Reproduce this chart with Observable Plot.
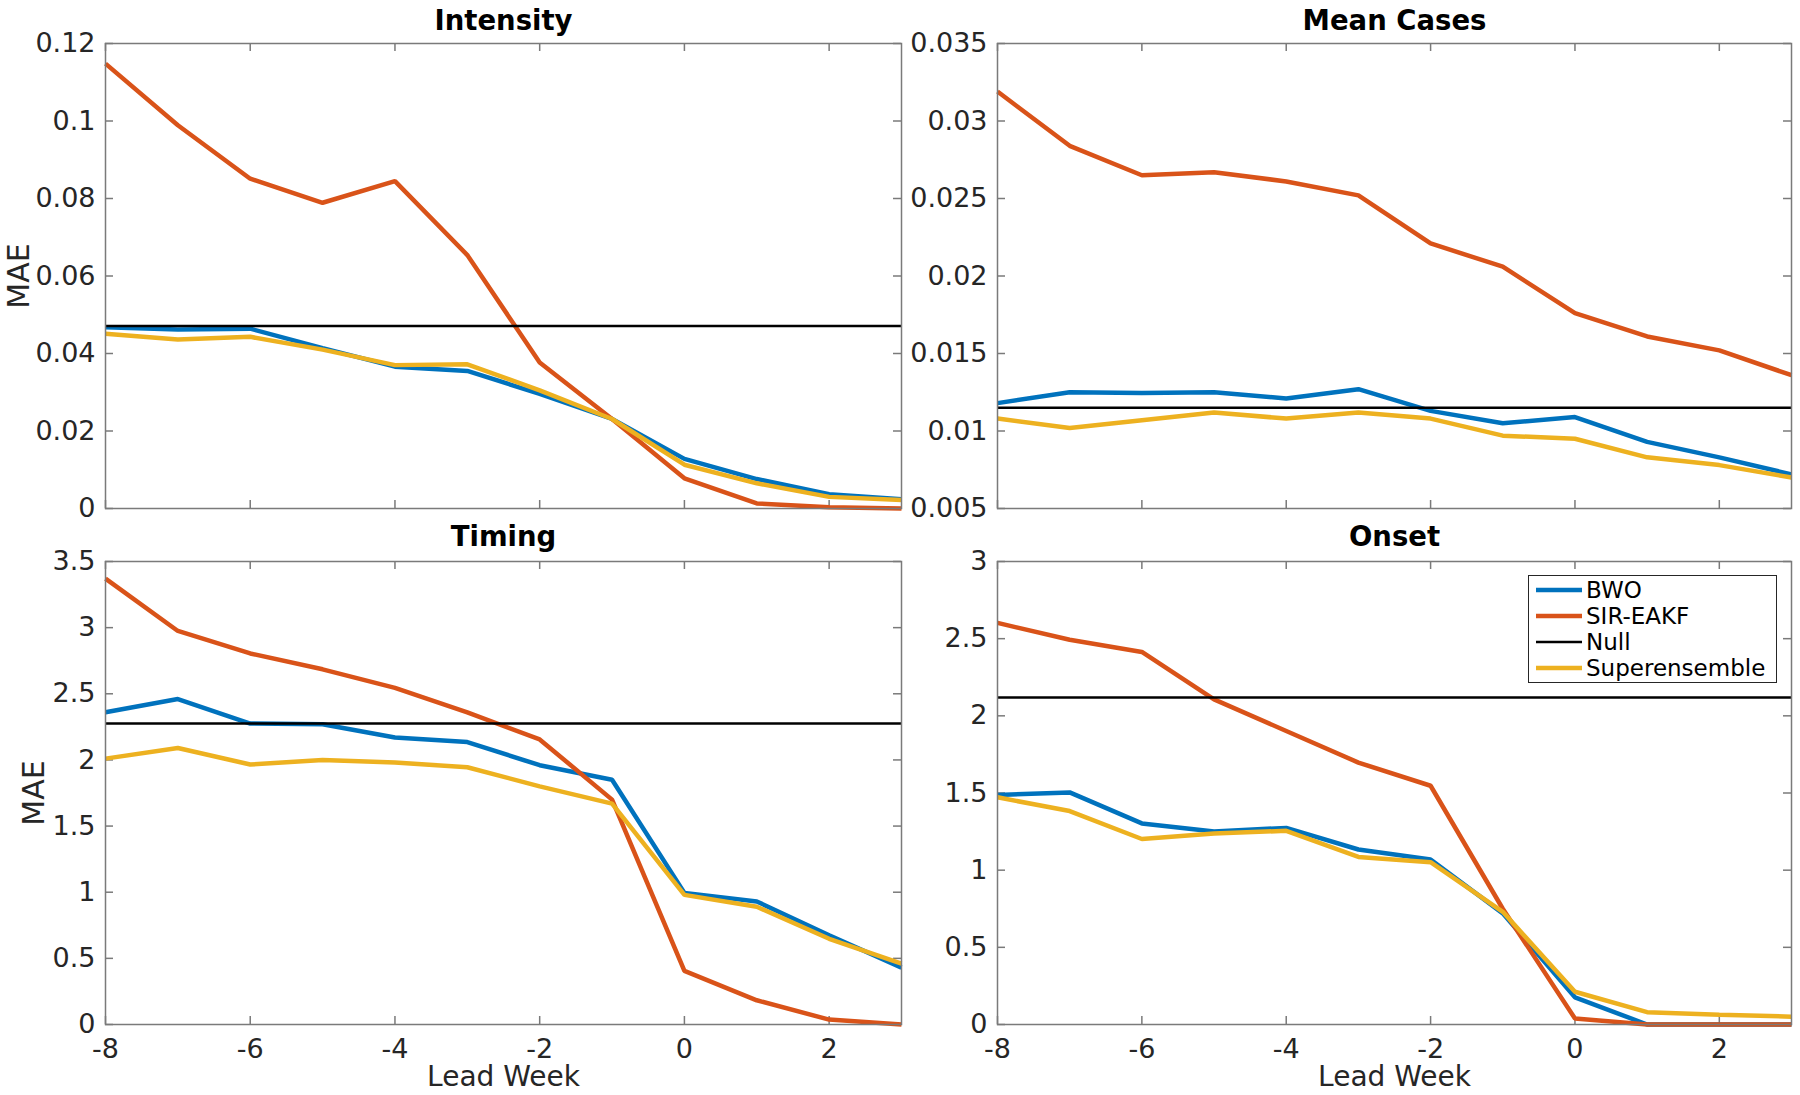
<!DOCTYPE html>
<html><head><meta charset="utf-8">
<script src="https://cdn.jsdelivr.net/npm/d3@7"></script>
<script src="https://cdn.jsdelivr.net/npm/@observablehq/plot@0.6"></script>
<style>
body{margin:0;background:#fff;}
#wrap{position:relative;width:1800px;height:1095px;font-family:"DejaVu Sans",sans-serif;overflow:hidden;background:#fff;}
.panel{position:absolute;}
.panel svg{overflow:visible;}
#legend{position:absolute;left:1528px;top:575px;width:249px;height:108px;border:1.5px solid #262626;background:#fff;box-sizing:border-box;}
.lrow{position:absolute;left:0;height:26px;display:flex;align-items:center;font-size:23px;color:#000;white-space:nowrap;}
</style></head><body><div id="wrap"></div>
<script>
// ---------- data ----------
const weeks = [-8, -7, -6, -5, -4, -3, -2, -1, 0, 1, 2, 3];
const models = ["BWO", "SIR-EAKF", "Null", "Superensemble"];
const modelColors = ["#0072BD", "#D95319", "#000000", "#EDB120"];
const xTicks = [-8, -6, -4, -2, 0, 2];

const intensityBWO   = [0.0468, 0.0462, 0.0464, 0.0414, 0.0366, 0.0355, 0.0296, 0.0231, 0.0128, 0.0076, 0.0037, 0.0024];
const intensitySIR   = [0.1148, 0.0989, 0.0851, 0.0789, 0.0845, 0.0654, 0.0377, 0.0231, 0.0078, 0.0013, 0.0003, 0.0000];
const intensitySuper = [0.0451, 0.0436, 0.0443, 0.0410, 0.0370, 0.0372, 0.0305, 0.0231, 0.0113, 0.0065, 0.0030, 0.0022];
const intensityNull  = 0.0471;
const intensityTicks = [0, 0.02, 0.04, 0.06, 0.08, 0.1, 0.12];

const casesBWO   = [0.0118, 0.0125, 0.01245, 0.0125, 0.0121, 0.0127, 0.0113, 0.0105, 0.0109, 0.0093, 0.0083, 0.0072];
const casesSIR   = [0.0319, 0.0284, 0.0265, 0.0267, 0.0261, 0.0252, 0.0221, 0.0206, 0.0176, 0.0161, 0.0152, 0.0136];
const casesSuper = [0.0108, 0.0102, 0.0107, 0.0112, 0.0108, 0.0112, 0.0108, 0.0097, 0.0095, 0.0083, 0.0078, 0.0070];
const casesNull  = 0.0115;
const casesTicks = [0.005, 0.01, 0.015, 0.02, 0.025, 0.03, 0.035];

const timingBWO   = [2.36, 2.46, 2.275, 2.27, 2.17, 2.135, 1.96, 1.85, 0.995, 0.93, 0.675, 0.43];
const timingSIR   = [3.37, 2.975, 2.805, 2.685, 2.545, 2.36, 2.155, 1.70, 0.405, 0.183, 0.037, 0.0];
const timingSuper = [2.01, 2.09, 1.965, 2.0, 1.98, 1.945, 1.80, 1.67, 0.98, 0.89, 0.648, 0.46];
const timingNull  = 2.275;
const timingTicks = [0, 0.5, 1, 1.5, 2, 2.5, 3, 3.5];

const onsetBWO   = [1.487, 1.504, 1.303, 1.25, 1.274, 1.134, 1.069, 0.72, 0.176, 0, 0, 0];
const onsetSIR   = [2.602, 2.493, 2.414, 2.107, 1.902, 1.697, 1.547, 0.75, 0.039, 0, 0, 0];
const onsetSuper = [1.472, 1.383, 1.202, 1.238, 1.255, 1.086, 1.052, 0.73, 0.212, 0.08, 0.063, 0.051];
const onsetNull  = 2.119;
const onsetTicks = [0, 0.5, 1, 1.5, 2, 2.5, 3];

const titles = ["Intensity", "Mean Cases", "Timing", "Onset"];
const xLabel = "Lead Week";
const yLabel = "MAE";

// ---------- drawing ----------
const wrap = document.getElementById("wrap");
const axisColor = "#7a7a7a";
const textColor = "#262626";
const tickLen = 8;

function toRows(arr) { return weeks.map((w, i) => ({week: w, value: arr[i]})); }

function panel(cfg) {
  const fw = cfg.width - cfg.ml - cfg.mr;
  const fh = cfg.height - cfg.mt - cfg.mb;
  const line = (arr, c) => Plot.line(toRows(arr), {x: "week", y: "value", stroke: modelColors[c], strokeWidth: 4.5, strokeLinecap: "butt", strokeLinejoin: "miter"});
  const marks = [
    // inward ticks, all four sides
    Plot.tickY(cfg.ticks, {y: d => d, stroke: axisColor, strokeWidth: 1.5, insetRight: fw - tickLen}),
    Plot.tickY(cfg.ticks, {y: d => d, stroke: axisColor, strokeWidth: 1.5, insetLeft: fw - tickLen}),
    Plot.tickX(xTicks, {x: d => d, stroke: axisColor, strokeWidth: 1.5, insetTop: fh - tickLen}),
    Plot.tickX(xTicks, {x: d => d, stroke: axisColor, strokeWidth: 1.5, insetBottom: fh - tickLen}),
    Plot.axisY({ticks: cfg.ticks, tickSize: 0, tickPadding: 10, tickFormat: d => String(d), label: null, fontSize: 27, fill: textColor}),
    line(cfg.bwo, 0),
    line(cfg.sir, 1),
    Plot.ruleY([cfg.nullVal], {stroke: modelColors[2], strokeWidth: 2.5}),
    line(cfg.sup, 3),
    Plot.frame({stroke: axisColor, strokeWidth: 1.5}),
    Plot.text([cfg.title], {text: d => d, frameAnchor: "top", textAnchor: "middle", lineAnchor: "middle", dy: cfg.titleDy, fontSize: 27.5, fontWeight: "bold", fill: "#000"})
  ];
  if (cfg.showX) {
    marks.push(Plot.axisX({ticks: xTicks, tickSize: 0, tickPadding: 14, tickFormat: d => String(d), label: null, fontSize: 27, fill: textColor}));
    marks.push(Plot.text([xLabel], {text: d => d, frameAnchor: "bottom", textAnchor: "middle", lineAnchor: "middle", dy: 53, fontSize: 28, fill: textColor}));
  }
  if (cfg.yLabelDx != null) {
    marks.push(Plot.text([yLabel], {text: d => d, frameAnchor: "left", textAnchor: "middle", lineAnchor: "middle", rotate: -90, dx: cfg.yLabelDx, fontSize: 30, fill: textColor}));
  }
  const chart = Plot.plot({
    width: cfg.width, height: cfg.height,
    marginLeft: cfg.ml, marginRight: cfg.mr, marginTop: cfg.mt, marginBottom: cfg.mb,
    style: {background: "transparent", overflow: "visible", fontFamily: "DejaVu Sans", fontSize: "27px", color: textColor},
    x: {domain: [-8, 3], axis: null},
    y: {domain: cfg.domain, axis: null},
    marks
  });
  const div = document.createElement("div");
  div.className = "panel";
  div.style.left = cfg.left + "px";
  div.style.top = cfg.top + "px";
  div.appendChild(chart);
  wrap.appendChild(div);
}

panel({left: 0, top: 0, width: 920, height: 515, ml: 105, mr: 19, mt: 43, mb: 7,
  domain: [0, 0.12], ticks: intensityTicks, bwo: intensityBWO, sir: intensitySIR, sup: intensitySuper, nullVal: intensityNull,
  title: titles[0], titleDy: -22, showX: false, yLabelDx: -86});
panel({left: 920, top: 0, width: 880, height: 515, ml: 77, mr: 9, mt: 43, mb: 7,
  domain: [0.005, 0.035], ticks: casesTicks, bwo: casesBWO, sir: casesSIR, sup: casesSuper, nullVal: casesNull,
  title: titles[1], titleDy: -22, showX: false, yLabelDx: null});
panel({left: 0, top: 515, width: 920, height: 580, ml: 105, mr: 19, mt: 46, mb: 71,
  domain: [0, 3.5], ticks: timingTicks, bwo: timingBWO, sir: timingSIR, sup: timingSuper, nullVal: timingNull,
  title: titles[2], titleDy: -24, showX: true, yLabelDx: -71});
panel({left: 920, top: 515, width: 880, height: 580, ml: 77, mr: 9, mt: 46, mb: 71,
  domain: [0, 3], ticks: onsetTicks, bwo: onsetBWO, sir: onsetSIR, sup: onsetSuper, nullVal: onsetNull,
  title: titles[3], titleDy: -24, showX: true, yLabelDx: null});

// legend
const legend = document.createElement("div");
legend.id = "legend";
const rowCenters = [14, 40, 66, 92];
models.forEach((m, i) => {
  const row = document.createElement("div");
  row.className = "lrow";
  row.style.top = (rowCenters[i] - 13) + "px";
  const sw = i === 2 ? 2.5 : 4.5;
  row.innerHTML = `<svg width="57" height="26" style="display:block"><line x1="7" x2="53" y1="13" y2="13" stroke="${modelColors[i]}" stroke-width="${sw}"/></svg><span>${m}</span>`;
  legend.appendChild(row);
});
wrap.appendChild(legend);
</script>
</body></html>
